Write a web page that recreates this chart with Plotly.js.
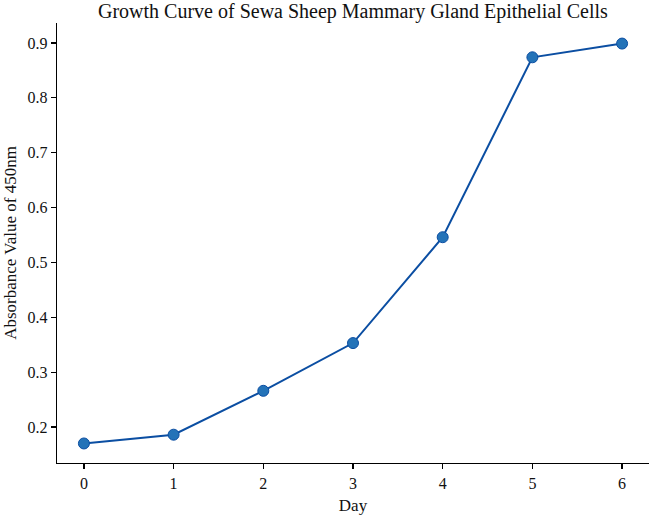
<!DOCTYPE html>
<html>
<head>
<meta charset="utf-8">
<script src="https://cdn.plot.ly/plotly-3.0.1.min.js"></script>
<style>
  html, body { margin: 0; padding: 0; background: #ffffff; }
  #chart { width: 650px; height: 515px; }
</style>
</head>
<body>
<div id="chart"></div>
<script>
// Growth curve readings (absorbance at 450nm per day)
const days = [0, 1, 2, 3, 4, 5, 6];
const absorbance = [0.170, 0.186, 0.266, 0.353, 0.546, 0.874, 0.899];
const yTicks = [0.2, 0.3, 0.4, 0.5, 0.6, 0.7, 0.8, 0.9];

const font = "'Liberation Serif', 'Times New Roman', serif";

const trace = {
  type: "scatter",
  mode: "lines+markers",
  x: days,
  y: absorbance,
  line: { color: "#0b4ea2", width: 2 },
  marker: {
    size: 11,
    color: "#2473b8",
    line: { color: "#0b4ea2", width: 1 }
  },
  hoverinfo: "x+y"
};

const axisCommon = {
  showline: true,
  linecolor: "#000000",
  linewidth: 1.3,
  ticks: "outside",
  ticklen: 5,
  tickwidth: 1.2,
  tickcolor: "#000000",
  showgrid: false,
  zeroline: false,
  mirror: false,
  tickfont: { family: font, size: 16, color: "#111111" }
};

const layout = {
  width: 650,
  height: 515,
  margin: { l: 57, r: 1, t: 23, b: 52 },
  paper_bgcolor: "#ffffff",
  plot_bgcolor: "#ffffff",
  showlegend: false,
  font: { family: font, color: "#111111" },
  title: {
    text: "Growth Curve of Sewa Sheep Mammary Gland Epithelial Cells",
    font: { family: font, size: 20, color: "#111111" },
    x: 0.543,
    xanchor: "center",
    y: 0.992,
    yanchor: "top"
  },
  xaxis: Object.assign({}, axisCommon, {
    range: [-0.3, 6.3],
    tickmode: "array",
    tickvals: days,
    ticktext: days.map(String),
    title: { text: "Day", font: { family: font, size: 17, color: "#111111" }, standoff: 8 }
  }),
  yaxis: Object.assign({}, axisCommon, {
    range: [0.1344, 0.9365],
    tickmode: "array",
    tickvals: yTicks,
    ticktext: yTicks.map(v => v.toFixed(1)),
    title: { text: "Absorbance Value of 450nm", font: { family: font, size: 17, color: "#111111" }, standoff: 6 }
  })
};

Plotly.newPlot("chart", [trace], layout, { displayModeBar: false, staticPlot: true });
</script>
</body>
</html>
